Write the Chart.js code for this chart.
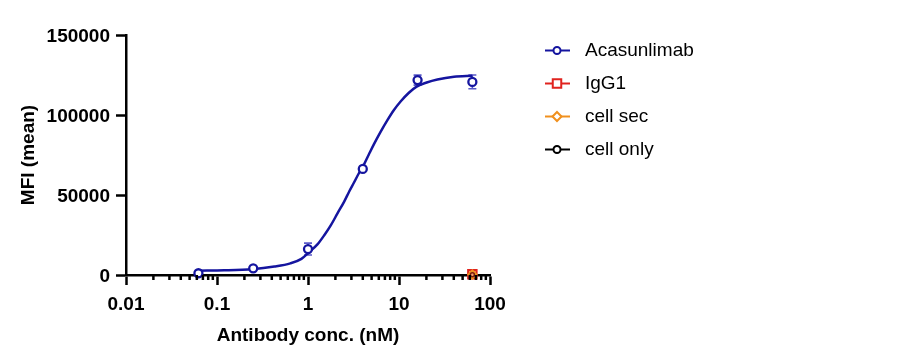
<!DOCTYPE html>
<html><head><meta charset="utf-8">
<script src="https://cdn.jsdelivr.net/npm/chart.js@4.4.0/dist/chart.umd.min.js"></script>
<style>html,body{margin:0;padding:0;background:#fff;overflow:hidden;} #wrap{width:909px;height:357px;}</style>
</head><body><div id="wrap"><canvas id="c" width="909" height="357"></canvas></div>
<script>
// ---- data ----
const concentrations = [0.0625, 0.25, 1, 4, 16, 64];
const acasunlimabMFI = [1100, 4200, 16200, 66300, 121800, 120700];
const acasunlimabSD  = [0, 0, 3700, 0, 3100, 4300];
const fitConc = [0.0625, 0.12, 0.244, 0.427, 0.64, 0.846, 1.036, 1.269, 1.516, 1.778, 2.108, 2.498, 2.836, 3.203, 3.636, 3.943, 4.661, 5.292, 6.272, 7.43, 8.72, 10.41, 12.76, 15.63, 20.14, 26.42, 40.24, 64];
const fitMFI  = [2700, 2900, 3600, 5250, 7250, 10100, 14400, 19100, 25000, 31000, 38500, 45900, 52200, 57800, 63750, 66900, 75300, 81600, 89400, 96600, 102800, 108400, 113750, 117700, 120300, 122200, 123900, 124500];
const igg1Conc = [64];
const igg1MFI = [400];
const cellSecConc = [64];
const cellSecMFI = [300];
const cellOnlyConc = [64];
const cellOnlyMFI = [200];
const seriesNames = ['Acasunlimab', 'IgG1', 'cell sec', 'cell only'];
const xTickValues = [0.01, 0.1, 1, 10, 100];
const xTickLabels = ['0.01', '0.1', '1', '10', '100'];
const yTickValues = [0, 50000, 100000, 150000];
const yTickLabels = ['0', '50000', '100000', '150000'];
const xTitle = 'Antibody conc. (nM)';
const yTitle = 'MFI (mean)';

// ---- styles ----
const NAVY = '#15159f';
const ERR = '#5a5ac8';
const RED = '#e0231e';
const ORANGE = '#f0901e';
const BLACK = '#000000';
const FONT = "'Liberation Sans', Arial, Helvetica, sans-serif";
Chart.defaults.font.family = FONT;
Chart.defaults.color = '#000';

const pts = (xs, ys) => xs.map((x, i) => ({x: x, y: ys[i]}));

const legendItems = [
  {name: seriesNames[0], color: NAVY, style: 'circle', r: 3.5},
  {name: seriesNames[1], color: RED, style: 'rect', r: 6},
  {name: seriesNames[2], color: ORANGE, style: 'rectRot', r: 4.5},
  {name: seriesNames[3], color: BLACK, style: 'circle', r: 3.5}
];

const errorBars = {
  id: 'errorBars',
  beforeDatasetsDraw(chart) {
    const {ctx, scales: {x, y}} = chart;
    ctx.save();
    ctx.strokeStyle = ERR;
    ctx.lineWidth = 1.6;
    concentrations.forEach((c, i) => {
      const sd = acasunlimabSD[i];
      if (!sd) return;
      const px = x.getPixelForValue(c);
      const yt = y.getPixelForValue(acasunlimabMFI[i] + sd);
      const yb = y.getPixelForValue(acasunlimabMFI[i] - sd);
      ctx.beginPath();
      ctx.moveTo(px, yt); ctx.lineTo(px, yb);
      ctx.moveTo(px - 4, yt); ctx.lineTo(px + 4, yt);
      ctx.moveTo(px - 4, yb); ctx.lineTo(px + 4, yb);
      ctx.stroke();
    });
    ctx.restore();
  }
};

const minorTicks = {
  id: 'minorTicks',
  afterDraw(chart) {
    const {ctx, scales: {x}} = chart;
    ctx.save();
    ctx.strokeStyle = '#000';
    ctx.lineWidth = 2.5;
    for (let d = 0; d < xTickValues.length - 1; d++) {
      for (let k = 2; k <= 9; k++) {
        const v = xTickValues[d] * k;
        const px = x.getPixelForValue(v);
        ctx.beginPath();
        ctx.moveTo(px, x.top);
        ctx.lineTo(px, x.top + 5);
        ctx.stroke();
      }
    }
    ctx.restore();
  }
};

const customLegend = {
  id: 'customLegend',
  afterDraw(chart) {
    const ctx = chart.ctx;
    ctx.save();
    const x0 = 545, x1 = 570, mx = 557, tx = 585;
    legendItems.forEach((it, i) => {
      const yy = 50.5 + i * 33;
      ctx.strokeStyle = it.color;
      ctx.lineWidth = 2;
      ctx.beginPath(); ctx.moveTo(x0, yy); ctx.lineTo(x1, yy); ctx.stroke();
      ctx.fillStyle = '#fff';
      ctx.strokeStyle = it.color;
      ctx.lineWidth = 2;
      ctx.beginPath();
      if (it.style === 'circle') {
        ctx.arc(mx, yy, it.r, 0, Math.PI * 2);
      } else if (it.style === 'rect') {
        const s = it.r * Math.SQRT1_2;
        ctx.rect(mx - s, yy - s, 2 * s, 2 * s);
      } else {
        ctx.moveTo(mx, yy - it.r); ctx.lineTo(mx + it.r, yy); ctx.lineTo(mx, yy + it.r); ctx.lineTo(mx - it.r, yy); ctx.closePath();
      }
      ctx.fill(); ctx.stroke();
      ctx.fillStyle = '#000';
      ctx.font = '19px ' + FONT;
      ctx.textBaseline = 'middle';
      ctx.textAlign = 'left';
      ctx.fillText(it.name, tx, yy);
    });
    ctx.restore();
  }
};

new Chart(document.getElementById('c'), {
  type: 'scatter',
  data: {
    datasets: [
      {label: seriesNames[0] + ' fit', data: pts(fitConc, fitMFI), showLine: true, borderColor: NAVY, borderWidth: 2.5,
       pointRadius: 0, cubicInterpolationMode: 'monotone', clip: false, order: 5},
      {label: seriesNames[0], data: pts(concentrations, acasunlimabMFI), showLine: false, pointStyle: 'circle',
       pointRadius: 4, pointBorderWidth: 2.3, borderColor: NAVY, backgroundColor: '#fff', clip: false, order: 4},
      {label: seriesNames[1], data: pts(igg1Conc, igg1MFI), showLine: false, pointStyle: 'rect',
       pointRadius: 6, pointBorderWidth: 2, borderColor: RED, backgroundColor: '#f4a070', clip: false, order: 3},
      {label: seriesNames[2], data: pts(cellSecConc, cellSecMFI), showLine: false, pointStyle: 'rectRot',
       pointRadius: 4, pointBorderWidth: 2, borderColor: ORANGE, backgroundColor: 'rgba(0,0,0,0)', clip: false, order: 2},
      {label: seriesNames[3], data: pts(cellOnlyConc, cellOnlyMFI), showLine: false, pointStyle: 'circle',
       pointRadius: 2, pointBorderWidth: 1.5, borderColor: '#7a1a10', backgroundColor: 'rgba(0,0,0,0)', clip: false, order: 1}
    ]
  },
  options: {
    responsive: false,
    devicePixelRatio: 1,
    animation: false,
    layout: {padding: {left: 0, top: 35, right: 419, bottom: 0}},
    plugins: {legend: {display: false}, tooltip: {enabled: false}},
    scales: {
      x: {
        type: 'logarithmic', min: 0.01, max: 100,
        afterBuildTicks: (s) => { s.ticks = xTickValues.map(v => ({value: v})); },
        afterFit: (s) => { s.height = 82; },
        ticks: {autoSkip: false, maxRotation: 0, padding: 8, font: {size: 19, weight: 'bold'}, color: '#000',
                callback: (v, i) => xTickLabels[i]},
        grid: {drawOnChartArea: false, drawTicks: true, tickLength: 10, tickWidth: 2.5, tickColor: '#000'},
        border: {display: true, color: '#000', width: 2.5},
        title: {display: true, text: xTitle, font: {size: 19, weight: 'bold'}, color: '#000', padding: {top: 0, bottom: 10}}
      },
      y: {
        type: 'linear', min: 0, max: 150000,
        afterBuildTicks: (s) => { s.ticks = yTickValues.map(v => ({value: v})); },
        afterFit: (s) => { s.width = 126; },
        ticks: {autoSkip: false, padding: 6, labelOffset: 1.5, font: {size: 19, weight: 'bold'}, color: '#000',
                callback: (v, i) => yTickLabels[i]},
        grid: {drawOnChartArea: false, drawTicks: true, tickLength: 10, tickWidth: 2.5, tickColor: '#000'},
        border: {display: true, color: '#000', width: 2.5},
        title: {display: true, text: yTitle, font: {size: 19, weight: 'bold'}, color: '#000', padding: {top: 17, bottom: 0}}
      }
    }
  },
  plugins: [errorBars, minorTicks, customLegend]
});
</script>
</body></html>
